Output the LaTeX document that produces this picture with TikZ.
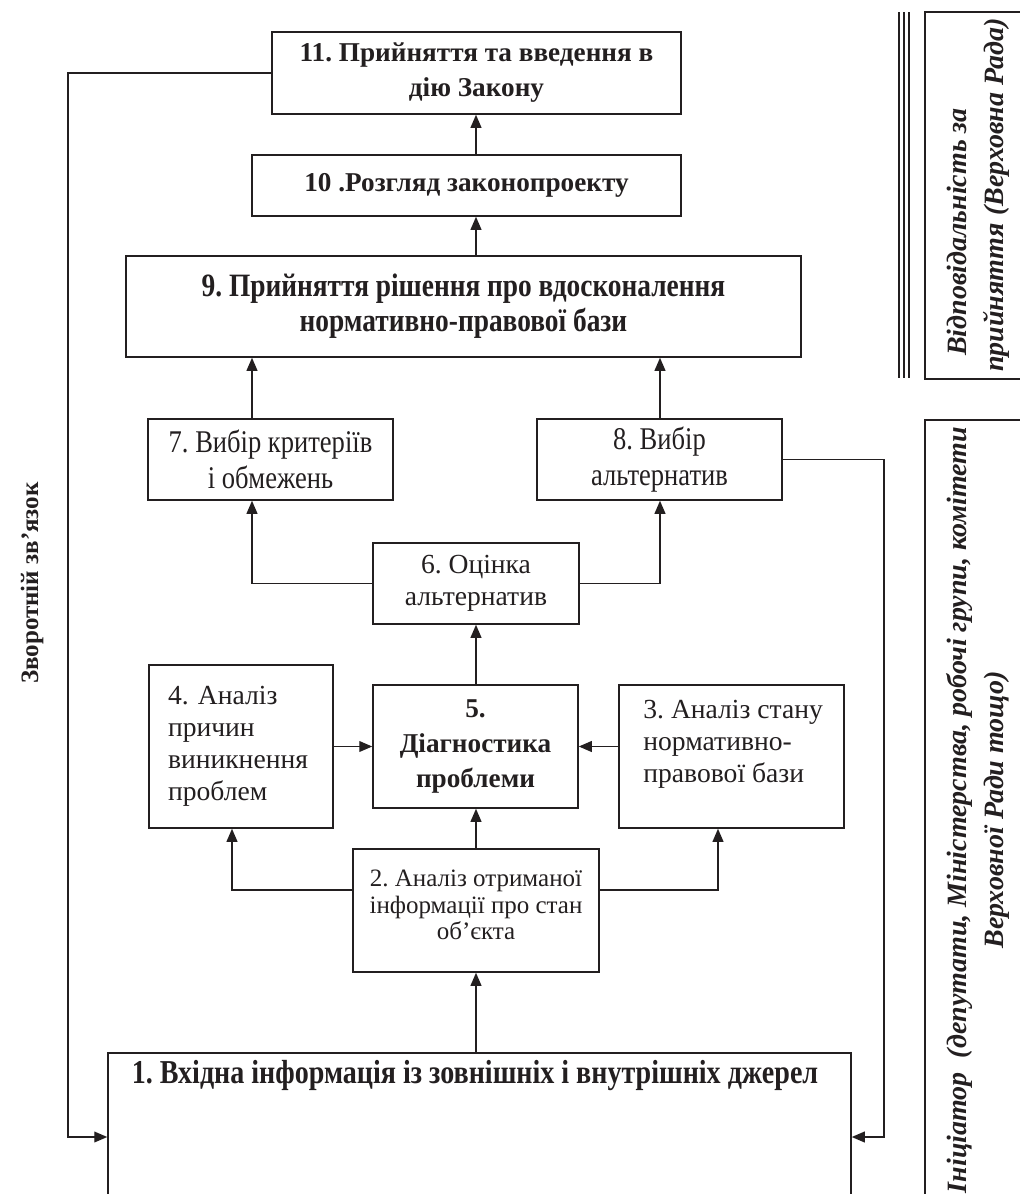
\documentclass[tikz,border=0pt]{standalone}
\usepackage{fontspec}
\setmainfont{Liberation Serif}
\newfontfamily\narrowserif[FakeStretch=0.84]{Liberation Serif}
\usetikzlibrary{arrows.meta,positioning}
\definecolor{LawInk}{RGB}{35,31,32}
\newcommand{\lawBold}{\fontsize{13.6}{17.5}\selectfont\bfseries\frenchspacing}
\newcommand{\lawWide}{\fontsize{16.3}{17.5}\selectfont\narrowserif\bfseries\frenchspacing}
\newcommand{\lawBase}{\fontsize{16.7}{18}\selectfont\narrowserif\bfseries\frenchspacing}
\newcommand{\lawPlain}{\fontsize{13.8}{16}\selectfont\frenchspacing}
\newcommand{\lawNarrow}{\fontsize{15.8}{18}\selectfont\narrowserif\frenchspacing}
\newcommand{\lawSmall}{\fontsize{12.5}{13.3}\selectfont\frenchspacing}
\newcommand{\lawSide}{\fontsize{14}{18.5}\selectfont\bfseries\itshape\frenchspacing}
\tikzset{
  law/box/.style={
    draw=LawInk,
    line width=0.75pt,
    fill=white,
    align=center,
    text=LawInk,
    inner sep=0pt
  },
  law/text/.style={
    align=center,
    text=LawInk,
    inner sep=0pt
  },
  law/arrow/.style={-{Triangle[length=6.5pt,width=5.4pt]}, line width=0.7pt, draw=LawInk},
  law/frame/.style={line width=0.75pt, draw=LawInk}
}

\begin{document}
\begin{tikzpicture}[x=0.5pt,y=-0.5pt]
  \useasboundingbox (0,0) rectangle (1020,1194);
  % columns of the connectors
  \coordinate (colL) at (252,0);
  \coordinate (colM) at (476,0);
  \coordinate (colR) at (660,0);
  \coordinate (fork) at (0,890);
  \coordinate (forkL) at (232,0);
  \coordinate (forkR) at (718,0);
  \coordinate (backL) at (68,1137);
  \coordinate (backR) at (884,1137);

  % stages of the procedure
  \node[law/box,minimum width=204.5pt,minimum height=41pt,font=\lawBold] (n11) at (476.5,73)
    {11. Прийняття та введення в\\дію Закону};
  \node[law/box,minimum width=214.5pt,minimum height=30.5pt,font=\lawBold] (n10) at (466.5,185.5)
    {10 .Розгляд законопроекту};
  \node[law/box,minimum width=337.5pt,minimum height=50.5pt,font=\lawWide] (n9) at (463.5,306.5)
    {9. Прийняття рішення про вдосконалення\\нормативно-правової бази};
  \node[law/box,minimum width=122.5pt,minimum height=40.5pt,font=\lawNarrow] (n7) at (270.5,459.5)
    {7. Вибір критеріїв\\і обмежень};
  \node[law/box,minimum width=122.5pt,minimum height=40.5pt,font=\lawNarrow] (n8) at (659.5,459.5)
    {8. Вибір\\альтернатив};
  \node[law/box,minimum width=103pt,minimum height=40.5pt,font=\lawPlain] (n6) at (476,583.5)
    {6. Оцінка\\альтернатив};
  \node[law/box,minimum width=92pt,minimum height=81.5pt,text width=73pt,inner xsep=9.5pt,
    align=left,font=\lawPlain] (n4) at (241,746.5)
    {4. Аналіз\\причин\\виникнення\\проблем};
  \node[law/box,minimum width=102.5pt,minimum height=61.5pt,font=\lawBold] (n5) at (475.5,746.5)
    {5.\\Діагностика\\проблеми};
  \node[law/box,minimum width=112.5pt,minimum height=71.5pt] (n3) at (731.5,756.5) {};
  \node[law/text,anchor=west,align=left,font=\lawPlain] (t3) at (643,744)
    {3. Аналіз стану\\нормативно-\\правової бази};
  \node[law/box,minimum width=123pt,minimum height=61.5pt] (n2) at (476,910.5) {};
  \node[law/text,font=\lawSmall] (t2) at (476,905)
    {2. Аналіз отриманої\\інформації про стан\\об’єкта};
  \node[law/box,minimum width=371.5pt,minimum height=72pt,anchor=north] (n1) at (479.5,1052) {};
  \node[law/text,font=\lawBase] (t1) at (475,1076)
    {1. Вхідна інформація із зовнішніх і внутрішніх джерел};

  % flow between the stages
  \draw[law/arrow] (n10.north -| colM) -- (n11.south -| colM);
  \draw[law/arrow] (n9.north -| colM) -- (n10.south -| colM);
  \draw[law/arrow] (n7.north -| colL) -- (n9.south -| colL);
  \draw[law/arrow] (n8.north -| colR) -- (n9.south -| colR);
  \draw[law/arrow] (n6.west) -| (n7.south -| colL);
  \draw[law/arrow] (n6.east) -| (n8.south -| colR);
  \draw[law/arrow] (n5.north -| colM) -- (n6.south -| colM);
  \draw[law/arrow] (n4.east |- n5.west) -- (n5.west);
  \draw[law/arrow] (n3.west |- n5.east) -- (n5.east);
  \draw[law/arrow] (n2.north -| colM) -- (n5.south -| colM);
  \draw[law/arrow] (n2.west |- fork) -| (n4.south -| forkL);
  \draw[law/arrow] (n2.east |- fork) -| (n3.south -| forkR);
  \draw[law/arrow] (n1.north -| colM) -- (n2.south -| colM);

  % feedback loops
  \draw[law/arrow] (n11.west) -| (backL) -- (n1.west |- backL);
  \draw[law/arrow] (n8.east) -| (backR) -- (n1.east |- backR);
  \node[law/text,rotate=90,font=\fontsize{12.5}{15}\selectfont\bfseries] (fbk) at (32,583)
    {Зворотній зв’язок};

  % responsibility column
  \foreach \x in {899,904,909}
    \draw[line width=1.1pt,draw=LawInk] (\x,12) -- (\x,378);
  \draw[law/frame] (1020,12) -- (925,12) -- (925,379) -- (1020,379);
  \node[law/text,rotate=90,align=left,font=\lawSide] (resp) at (978,195)
    {\hspace*{8pt}Відповідальність за\\прийняття (Верховна Рада)};
  \draw[law/frame] (1020,420) -- (925,420) -- (925,1194);
  \node[law/text,rotate=90,font=\lawSide] (init) at (978,810)
    {Ініціатор\ \ (депутати, Міністерства, робочі групи, комітети\\Верховної Ради тощо)};
\end{tikzpicture}
\end{document}
